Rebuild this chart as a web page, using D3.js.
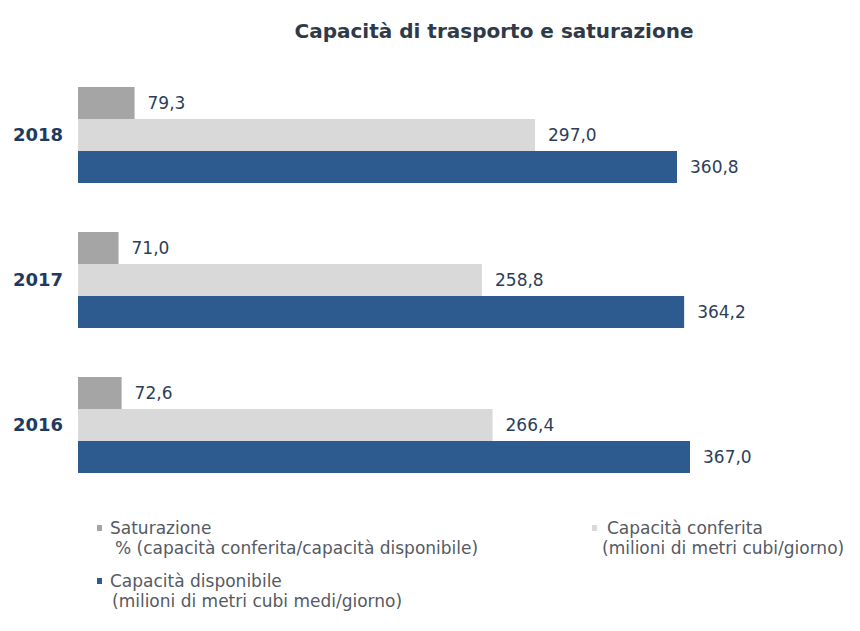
<!DOCTYPE html>
<html>
<head>
<meta charset="utf-8">
<script src="https://cdn.jsdelivr.net/npm/d3@7"></script>
<style>
  body { margin: 0; background: #ffffff; }
  svg { display: block; font-family: "DejaVu Sans", "Open Sans", sans-serif; }
</style>
</head>
<body>
<svg id="chart" width="860" height="631"></svg>
<script>
// ---- Data ----
const years = ["2018", "2017", "2016"];
const saturazione = [79.3, 71.0, 72.6];
const capacitaConferita = [297.0, 258.8, 266.4];
const capacitaDisponibile = [360.8, 364.2, 367.0];
const seriesNames = ["Saturazione", "Capacità conferita", "Capacità disponibile"];
const legendLines = [
  ["Saturazione", "% (capacità conferita/capacità disponibile)"],
  ["Capacità conferita", "(milioni di metri cubi/giorno)"],
  ["Capacità disponibile", "(milioni di metri cubi medi/giorno)"]
];
const titleText = "Capacità di trasporto e saturazione";

// ---- Styles ----
const colors = ["#a5a5a5", "#d9d9d9", "#2e5b8f"];
const svg = d3.select("#chart");

// ---- Scales ----
const y0 = d3.scaleBand().domain(years).range([87, 473]).paddingInner(0.338).paddingOuter(0);
const y1 = d3.scaleBand().domain(d3.range(3)).range([0, y0.bandwidth()]);
// each series was drawn on its own axis in the original
const xSat = d3.scaleLinear().domain([50, 100]).range([78, 174.5]);
const xConf = d3.scaleLinear().domain([-32.5, 297]).range([78, 535]);
const xDisp = d3.scaleLinear().domain([75, 367]).range([78, 690]);
const xs = [xSat, xConf, xDisp];
const values = [saturazione, capacitaConferita, capacitaDisponibile];

const fmt = v => d3.format(".1f")(v).replace(".", ",");

// ---- Title ----
svg.append("text")
  .attr("x", 494).attr("y", 31)
  .attr("dy", "0.35em")
  .attr("text-anchor", "middle")
  .attr("font-size", 20).attr("font-weight", "bold")
  .attr("fill", "#2f3a48")
  .text(titleText);

// ---- Bars ----
const groups = svg.selectAll("g.year").data(years).join("g")
  .attr("class", "year")
  .attr("transform", d => `translate(0,${y0(d)})`);

groups.each(function(year, i) {
  const g = d3.select(this);
  const rows = d3.range(3).map(s => ({ s, v: values[s][i] }));
  g.selectAll("rect").data(rows).join("rect")
    .attr("x", d => xs[d.s].range()[0])
    .attr("y", d => y1(d.s))
    .attr("width", d => xs[d.s](d.v) - xs[d.s].range()[0])
    .attr("height", y1.bandwidth())
    .attr("fill", d => colors[d.s]);
  g.selectAll("text.val").data(rows).join("text")
    .attr("class", "val")
    .attr("x", d => xs[d.s](d.v) + 13)
    .attr("y", d => y1(d.s) + y1.bandwidth() / 2)
    .attr("dy", "0.35em")
    .attr("font-size", 17)
    .attr("fill", "#2c3e5a")
    .text(d => fmt(d.v));
  g.append("text")
    .attr("x", 13)
    .attr("y", y1(1) + y1.bandwidth() / 2)
    .attr("dy", "0.35em")
    .attr("font-size", 18).attr("font-weight", "bold")
    .attr("fill", "#1f3a5f")
    .text(year);
});

// ---- Legend ----
const legendPos = [[97, 528], [592, 528], [97, 581]];
legendLines.forEach((lines, i) => {
  const [lx, ly] = legendPos[i];
  const lg = svg.append("g").attr("transform", `translate(${lx},${ly})`);
  lg.append("rect").attr("x", 0).attr("y", -3).attr("width", 5).attr("height", 6).attr("fill", colors[i]);
  lg.append("text").attr("x", i === 1 ? 15 : 13).attr("y", 0).attr("dy", "0.35em")
    .attr("font-size", 17).attr("fill", "#555a63").text(lines[0]);
  lg.append("text").attr("x", i === 0 ? 18 : (i === 1 ? 10 : 15)).attr("y", 20).attr("dy", "0.35em")
    .attr("font-size", 17).attr("fill", "#555a63").text(lines[1]);
});
</script>
</body>
</html>
